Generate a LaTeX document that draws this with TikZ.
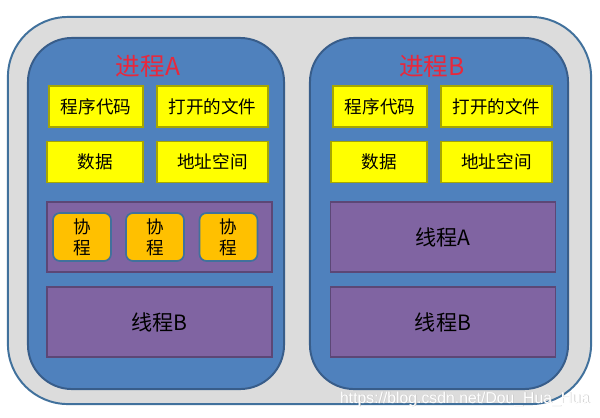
\documentclass[tikz,border=0pt]{standalone}
\usepackage{fontspec}
\setmainfont{Noto Sans CJK SC}
\newfontfamily\wmfont{Liberation Sans}
\usetikzlibrary{positioning}

\definecolor{outerfill}{HTML}{DCDCDC}
\definecolor{edgeblue}{HTML}{41719C}
\definecolor{procblue}{HTML}{4F81BD}
\definecolor{procedge}{HTML}{385D8A}
\definecolor{resyellow}{HTML}{FFFF00}
\definecolor{resedge}{HTML}{A6A600}
\definecolor{thrpurple}{HTML}{8064A2}
\definecolor{thredge}{HTML}{5C4776}
\definecolor{coorange}{HTML}{FFC000}
\definecolor{titlered}{HTML}{E8283C}

\begin{document}
\begin{tikzpicture}[
  x=0.025cm, y=-0.025cm,
  outer/.style={draw=edgeblue,fill=outerfill,line width=1.4pt,rounded corners=1.5cm,
    minimum width=14.575cm,minimum height=9.675cm},
  proc/.style={draw=procedge,fill=procblue,line width=1.4pt,rounded corners=1.1cm,
    minimum height=8.775cm},
  title/.style={text=titlered,font=\fontsize{17.5}{20}\selectfont},
  res/.style={draw=resedge,fill=resyellow,line width=1pt,minimum height=1.025cm,
    inner sep=0pt,font=\fontsize{12.5}{15}\selectfont},
  thr/.style={draw=thredge,fill=thrpurple,line width=1.2pt,minimum width=5.625cm,
    minimum height=1.75cm,inner sep=0pt,font=\fontsize{15}{18}\selectfont},
  coro/.style={draw=edgeblue,fill=coorange,line width=1.2pt,rounded corners=5pt,
    minimum width=1.45cm,minimum height=1.2cm,inner sep=0pt,align=center,
    font=\fontsize{12.5}{15}\selectfont},
  wmtext/.style={anchor=east,inner sep=0pt,font=\wmfont\fontsize{11.2}{13}\selectfont}
]
\useasboundingbox (0,0) rectangle (600,417);
\fill[white] (0,0) rectangle (600,417);

\node[outer] (box) at (299.5,210.5) {};

% process A
\node[proc,minimum width=6.4cm] (pa) at (156,213.5) {};
\node[title] (ta) at (148,66) {进程A};
\node[res,minimum width=2.35cm] (codea) at (96,106.5) {程序代码};
\node[res,minimum width=2.775cm] (filea) at (212.5,106.5) {打开的文件};
\node[res,minimum width=2.4cm] (dataa) at (95,162) {数据};
\node[res,minimum width=2.775cm] (addra) at (212.5,162) {地址空间};
\node[thr] (thra) at (159.5,237) {};
\node[coro] (co1) at (82,237) {协\\程};
\node[coro] (co2) at (155,237) {协\\程};
\node[coro] (co3) at (228.5,237) {协\\程};
\node[thr] (thrb) at (159.5,322) {线程B};

% process B
\node[proc,minimum width=6.45cm] (pb) at (439,213.5) {};
\node[title] (tb) at (432,66) {进程B};
\node[res,minimum width=2.35cm] (codeb) at (380,106.5) {程序代码};
\node[res,minimum width=2.775cm] (fileb) at (496.5,106.5) {打开的文件};
\node[res,minimum width=2.4cm] (datab) at (379,162) {数据};
\node[res,minimum width=2.775cm] (addrb) at (496.5,162) {地址空间};
\node[thr] (thrba) at (443,237) {线程A};
\node[thr] (thrbb) at (443,322) {线程B};

% watermark
\node[wmtext,text=gray!45] (wms) at (590.6,399.6) {https://blog.csdn.net/Dou\_Hua\_Hua};
\node[wmtext,text=white] (wm) at (590,399) {https://blog.csdn.net/Dou\_Hua\_Hua};
\end{tikzpicture}
\end{document}
